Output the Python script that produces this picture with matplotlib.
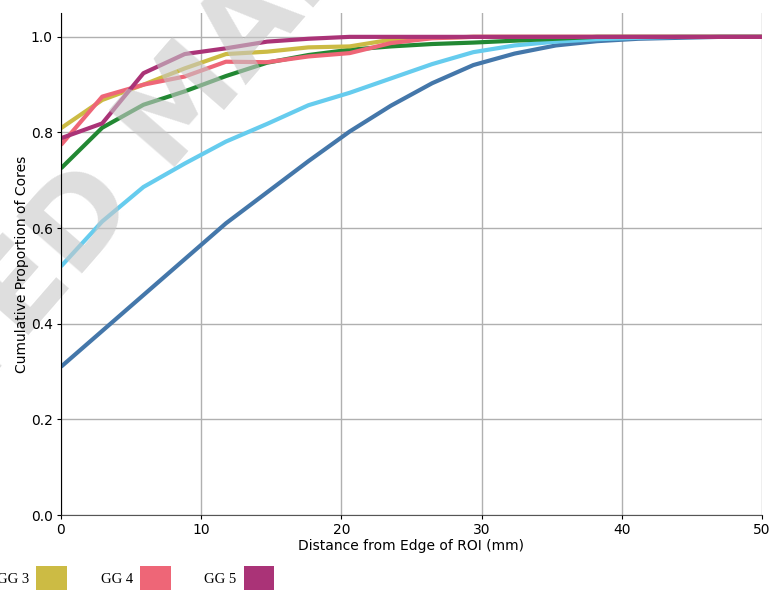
import numpy as np
import matplotlib
matplotlib.use("Agg")
import matplotlib.pyplot as plt
from matplotlib.patches import Patch

# distance from ROI edge (mm), 18 evenly spaced samples
dist = np.linspace(0, 50, 18)

# cumulative proportion of cores
blue = [0.31, 0.385, 0.46, 0.535, 0.61, 0.675, 0.74, 0.802, 0.856, 0.903,
        0.941, 0.965, 0.982, 0.991, 0.996, 0.998, 1.0, 1.0]
cyan = [0.52, 0.614, 0.686, 0.735, 0.781, 0.818, 0.857, 0.883, 0.913, 0.943,
        0.968, 0.982, 0.99, 0.995, 0.998, 1.0, 1.0, 1.0]
green = [0.725, 0.81, 0.858, 0.886, 0.918, 0.946, 0.962, 0.973, 0.98, 0.985,
         0.988, 0.992, 0.996, 1.0, 1.0, 1.0, 1.0, 1.0]
gg3 = [0.809, 0.868, 0.90, 0.934, 0.964, 0.969, 0.978, 0.98, 0.994, 0.998,
       1.0, 1.0, 1.0, 1.0, 1.0, 1.0, 1.0, 1.0]
gg4 = [0.774, 0.875, 0.90, 0.917, 0.948, 0.947, 0.959, 0.966, 0.987, 0.997,
       1.0, 1.0, 1.0, 1.0, 1.0, 1.0, 1.0, 1.0]
gg5 = [0.788, 0.819, 0.924, 0.964, 0.976, 0.99, 0.996, 1.0, 1.0, 1.0,
       1.0, 1.0, 1.0, 1.0, 1.0, 1.0, 1.0, 1.0]

series = [blue, cyan, green, gg3, gg4, gg5]
colors = ['#4477AA', '#66CCEE', '#228833', '#CCBB44', '#EE6677', '#AA3377']
legend_labels = ['GG 3', 'GG 4', 'GG 5']
legend_colors = colors[3:]

xticks = [0, 10, 20, 30, 40, 50]
yticks = [0.0, 0.2, 0.4, 0.6, 0.8, 1.0]

fig = plt.figure(figsize=(7.75, 6.02), dpi=100)
pos = [0.0787, 0.1445, 0.9045, 0.834]

# background axes only for the grid, so the watermark can sit between
# the curves and the tick labels
axg = fig.add_axes(pos, zorder=0)
axg.set_xlim(0, 50)
axg.set_ylim(0, 1.05)
axg.set_xticks(xticks)
axg.set_yticks(yticks)
axg.grid(True, color='#b0b0b0', lw=1)
axg.tick_params(left=False, bottom=False, labelleft=False, labelbottom=False)
for sp in axg.spines.values():
    sp.set_visible(False)

ax = fig.add_axes(pos, zorder=1)
ax.patch.set_visible(False)
for s, c in zip(series, colors):
    ax.plot(dist, s, color=c, lw=3, solid_capstyle='butt', zorder=2)

ax.set_xlim(0, 50)
ax.set_ylim(0, 1.05)
ax.set_yticks(yticks)
ax.set_xticks(xticks)
ax.set_axisbelow(False)
for sp in ['top', 'right']:
    ax.spines[sp].set_visible(False)
ax.spines['bottom'].set_color('#555555')
ax.tick_params(length=3, pad=3)
ax.set_xlabel('Distance from Edge of ROI (mm)', fontsize=10, labelpad=1)
ax.set_ylabel('Cumulative Proportion of Cores', fontsize=10, labelpad=1)

# watermark of the source page
ax.text(0.247, 0.837, 'ACCEPTED MANUSCRIPT', transform=fig.transFigure,
        fontsize=86, fontweight='bold', color='#c8c8c8', alpha=0.6,
        rotation=49, rotation_mode='anchor', ha='center', va='center',
        zorder=2.2, clip_on=False)

handles = [Patch(facecolor=c, edgecolor='none') for c in legend_colors]
fig.legend(handles, legend_labels, loc='center left',
           bbox_to_anchor=(-0.004, 0.04), ncol=3, frameon=False,
           markerfirst=False, handlelength=2.1, handleheight=2.1,
           handletextpad=0.5, columnspacing=2.3, borderpad=0,
           borderaxespad=0, prop={'family': 'Liberation Serif', 'size': 10.5})

fig.savefig('out.png', dpi=100)
